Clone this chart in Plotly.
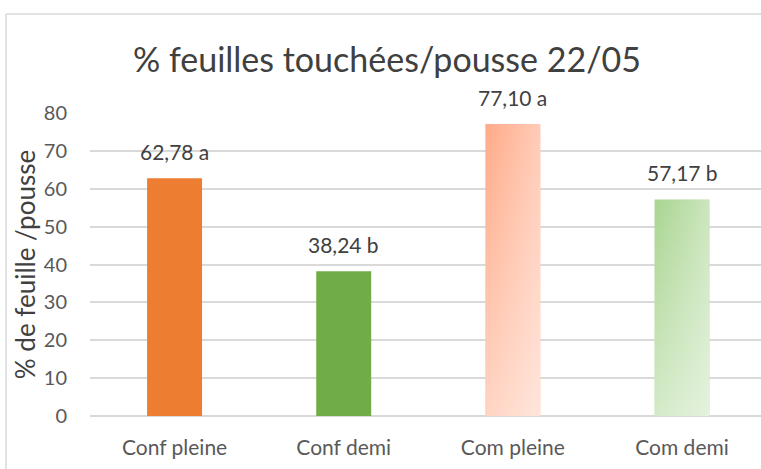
import plotly.graph_objects as go

# data
categories = ["Conf pleine", "Conf demi", "Com pleine", "Com demi"]
values = [62.78, 38.24, 77.10, 57.17]
labels = ["62,78 a", "38,24 b", "77,10 a", "57,17 b"]
colors = ["#ED7D31", "#70AD47", "#FFAA88", "#A9D591"]
gradient = [False, False, True, True]

BAR_W = 0.325
TXT = "#404040"
GRID = "#D9D9D9"

xs = list(range(len(categories)))

fig = go.Figure()
fig.add_trace(go.Bar(
    x=xs, y=values, width=BAR_W,
    marker=dict(color=colors, line=dict(width=0)),
    hovertext=categories, showlegend=False,
))

# white overlays to fake Excel's diagonal gradient on the "Com" bars
for x, v, g in zip(xs, values, gradient):
    if not g:
        continue
    px = [x - BAR_W / 2, x + BAR_W / 2, x + BAR_W / 2, x - BAR_W / 2, x - BAR_W / 2]
    py = [0, 0, v, v, 0]
    fig.add_trace(go.Scatter(
        x=px, y=py, mode="lines", line=dict(width=0), fill="toself",
        fillgradient=dict(type="horizontal",
                          colorscale=[[0, "rgba(255,255,255,0)"], [1, "rgba(255,255,255,0.4)"]]),
        hoverinfo="skip", showlegend=False,
    ))
    fig.add_trace(go.Scatter(
        x=px, y=py, mode="lines", line=dict(width=0), fill="toself",
        fillgradient=dict(type="vertical",
                          colorscale=[[0, "rgba(255,255,255,0.5)"], [1, "rgba(255,255,255,0)"]]),
        hoverinfo="skip", showlegend=False,
    ))

# data labels above the bars
for x, v, lab in zip(xs, values, labels):
    fig.add_annotation(x=x, y=v, text=lab, showarrow=False, yanchor="bottom",
                       yshift=12, font=dict(size=21, color=TXT))

# chart border (only top and left edges are visible in the crop)
fig.add_shape(type="line", xref="paper", yref="paper",
              x0=-0.1252, x1=-0.1252, y0=1.3267, y1=-0.2,
              line=dict(color=GRID, width=1.5))
fig.add_shape(type="line", xref="paper", yref="paper",
              x0=-0.1252, x1=1.1, y0=1.3267, y1=1.3267,
              line=dict(color=GRID, width=1.5))

fig.update_layout(
    width=761, height=469,
    margin=dict(l=90, r=0, t=113, b=53),
    paper_bgcolor="white", plot_bgcolor="white",
    font=dict(family="Lato, Open Sans, sans-serif", color="#595959"),
    title=dict(text="% feuilles touchées/pousse 22/05", x=0.5085, xanchor="center",
               y=0.872, yanchor="middle", font=dict(size=34, color=TXT)),
    bargap=0.675,
    xaxis=dict(range=[-0.5, 3.467], tickvals=xs, ticktext=categories,
               showgrid=False, zeroline=False, showline=False,
               tickfont=dict(size=21, color="#595959"), ticklabelstandoff=17),
    yaxis=dict(range=[0, 80], dtick=10, showgrid=True, gridcolor=GRID, gridwidth=1.5,
               zeroline=True, zerolinecolor=GRID, zerolinewidth=1.5, showline=False,
               tickfont=dict(size=20, color="#595959"), ticklabelstandoff=22,
               title=dict(text="% de feuille /pousse", font=dict(size=26, color=TXT), standoff=0)),
)

fig.write_html("out.html", config={"displayModeBar": False},
               post_script="document.body.style.margin='0';")
